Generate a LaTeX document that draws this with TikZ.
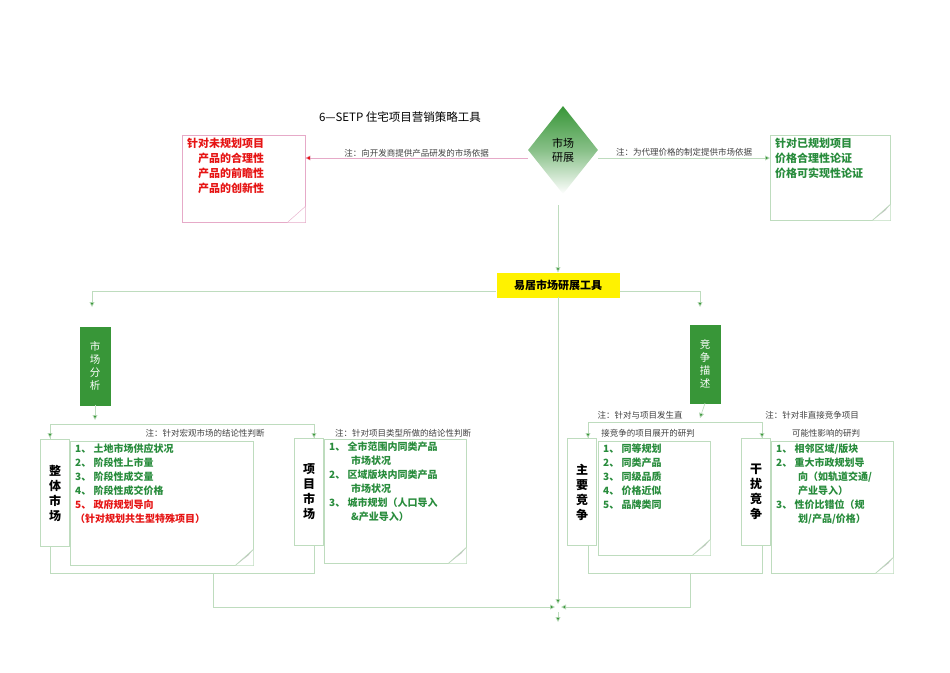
\documentclass[tikz,border=0pt]{standalone}
\usepackage{fontspec}
\setmainfont{Noto Sans CJK SC}
\usetikzlibrary{arrows.meta,shapes.geometric,calc}
\definecolor{lg}{RGB}{190,220,190}
\definecolor{dg}{RGB}{56,150,56}
\definecolor{tg}{RGB}{40,140,60}
\definecolor{rd}{RGB}{230,20,20}
\definecolor{pk}{RGB}{230,170,200}
\tikzset{
 ln/.style={draw=lg,line width=0.7pt},
 arr/.style={ln,-{Triangle[length=5pt,width=5pt,fill=dg]},draw=lg},
 note/.style={font=\fontsize{8.5}{9}\selectfont,text=black!75,inner sep=1pt},
 gbox/.style={draw=dg,fill=dg,text=white,font=\fontsize{10.5}{13}\selectfont,align=center,minimum width=30pt,inner sep=1pt},
 vbox/.style={draw=lg,fill=white,font=\bfseries\fontsize{12}{15}\selectfont,align=center,minimum width=29pt,minimum height=107pt,inner sep=1pt},
 cbox/.style={draw=lg,fill=white,anchor=north west,inner sep=0pt,text=tg,font=\bfseries\fontsize{10}{14}\selectfont},
}
\newcommand{\cb}[3]{\parbox[t][#2pt][t]{#1pt}{\vspace{3pt}\raggedright\leftskip=5pt #3}}
\newcommand{\myfold}[1]{%
 \fill[white] ([xshift=-18pt]#1.south east) -- (#1.south east) -- ([yshift=16pt]#1.south east) -- cycle;
 \fill[black!25] ([xshift=-18pt]#1.south east) -- ([yshift=16pt]#1.south east) -- ([xshift=-5pt,yshift=10pt]#1.south east) -- cycle;
 \draw[ln] ([xshift=-18pt]#1.south east) -- ([yshift=16pt]#1.south east);}
\begin{document}
\begin{tikzpicture}[x=1pt,y=-1pt]
\useasboundingbox (0,0) rectangle (950,672);
\node[font=\fontsize{11.5}{13}\selectfont] (title) at (400,117) {6—SETP 住宅项目营销策略工具};
\node[diamond,minimum width=70pt,minimum height=88pt,inner sep=0pt,shading=axis,top color=dg,bottom color=white,middle color=dg!60,font=\fontsize{11}{14}\selectfont,align=center] (dia) at (563,150) {市场\\研展};
% top boxes
\node[draw=pk,minimum width=123pt,minimum height=87pt,anchor=north west,fill=white] (lb) at (182,135) {};
\node[anchor=north west,text=rd,font=\bfseries\fontsize{11}{15}\selectfont,align=left,inner sep=0pt] (lbt) at (187,138) {针对未规划项目\\\hspace{1em}产品的合理性\\\hspace{1em}产品的前瞻性\\\hspace{1em}产品的创新性};
\fill[white] ([xshift=-18pt]lb.south east) -- (lb.south east) -- ([yshift=16pt]lb.south east) -- cycle;
\draw[pk] ([xshift=-18pt]lb.south east) -- ([yshift=16pt]lb.south east);
\node[draw=lg,minimum width=120pt,minimum height=85pt,anchor=north west,fill=white] (rb) at (770,135) {};
\node[anchor=north west,text=tg,font=\bfseries\fontsize{11}{15}\selectfont,align=left,inner sep=0pt] (rbt) at (775,138) {针对已规划项目\\价格合理性论证\\价格可实现性论证};
\myfold{rb}
\draw[draw=pk,-{Triangle[length=5pt,width=5pt,fill=rd]}] (dia.west|-0,158) -- (lb.east|-0,158) node[midway,above,note] {注：向开发商提供产品研发的市场依据};
\draw[arr] (dia.east|-0,158) -- (rb.west|-0,158) node[midway,above,note] {注：为代理价格的制定提供市场依据};
% yellow
\node[fill=yellow,minimum width=123pt,minimum height=25pt,font=\bfseries\fontsize{11}{12}\selectfont] (yb) at (558,285) {易居市场研展工具};
\draw[arr] (558,205) -- (yb.north);
\coordinate (m) at (558,607);
\draw[ln] (558,297) -- (558,600);
\draw[arr] (558,612) -- (558,622);
\draw[ln] (92,291) -- (yb.west|-0,291) (yb.east|-0,291) -- (700,291);
\node[gbox,minimum height=78pt] (sa) at (95,366) {市\\场\\分\\析};
\node[gbox,minimum height=78pt] (jz) at (705,364) {竞\\争\\描\\述};
\draw[arr] (92,291) -- (92,307);
\draw[arr] (700,291) -- (700,307);
% left branch
\draw[arr] (sa.south) -- (95,420);
\draw[ln] (50,424) rectangle (314,573);
\draw[arr] (50,424) -- (50,438);
\draw[arr] (314,424) -- (314,438);
\node[note] (n1) at (205,433) {注：针对宏观市场的结论性判断};
\node[note] (n2) at (403,433) {注：针对项目类型所做的结论性判断};
\node[vbox] (zt) at (55,493) {整\\体\\市\\场};
\node[cbox] (zc) at (70,441) {\cb{183}{124}{1、\ 土地市场供应状况\\2、\ 阶段性上市量\\3、\ 阶段性成交量\\4、\ 阶段性成交价格\\\textcolor{rd}{5、\ 政府规划导向}\\\textcolor{rd}{（针对规划共生型特殊项目）}}};
\myfold{zc}
\node[vbox] (xm) at (309,492) {项\\目\\市\\场};
\node[cbox] (xc) at (324,439) {\cb{142}{124}{1、\ 全市范围内同类产品\\\hspace{2.2em}市场状况\\2、\ 区域版块内同类产品\\\hspace{2.2em}市场状况\\3、\ 城市规划（人口导入\\\hspace{2.2em}\&产业导入）}};
\myfold{xc}
\draw[ln] (213,573) -- (213,607) -- (550,607);
% right branch
\draw[arr] (jz.south) -- (700,418);
\draw[ln] (588,422) rectangle (762,573);
\draw[arr] (588,422) -- (588,438);
\draw[arr] (762,422) -- (762,438);
\node[note] (n3) at (640,415) {注：针对与项目发生直};
\node[note] (n4) at (648,433) {接竞争的项目展开的研判};
\node[note] (n5) at (812,415) {注：针对非直接竞争项目};
\node[note] (n6) at (826,433) {可能性影响的研判};
\node[vbox] (zy) at (582,492) {主\\要\\竞\\争};
\node[vbox] (gr) at (756,492) {干\\扰\\竞\\争};
\node[cbox] (zyc) at (598,441) {\cb{112}{114}{1、\ 同等规划\\2、\ 同类产品\\3、\ 同级品质\\4、\ 价格近似\\5、\ 品牌类同}};
\myfold{zyc}
\node[cbox] (grc) at (771,441) {\cb{122}{132}{1、\ 相邻区域/版块\\2、\ 重大市政规划导\\\hspace{2.2em}向（如轨道交通/\\\hspace{2.2em}产业导入）\\3、\ 性价比错位（规\\\hspace{2.2em}划/产品/价格）}};
\myfold{grc}
\draw[ln] (690,573) -- (690,607) -- (566,607);
% merge arrows
\draw[arr] (548,607) -- (555,607);
\draw[arr] (568,607) -- (561,607);
\draw[arr] (558,598) -- (558,604);
\end{tikzpicture}
\end{document}
